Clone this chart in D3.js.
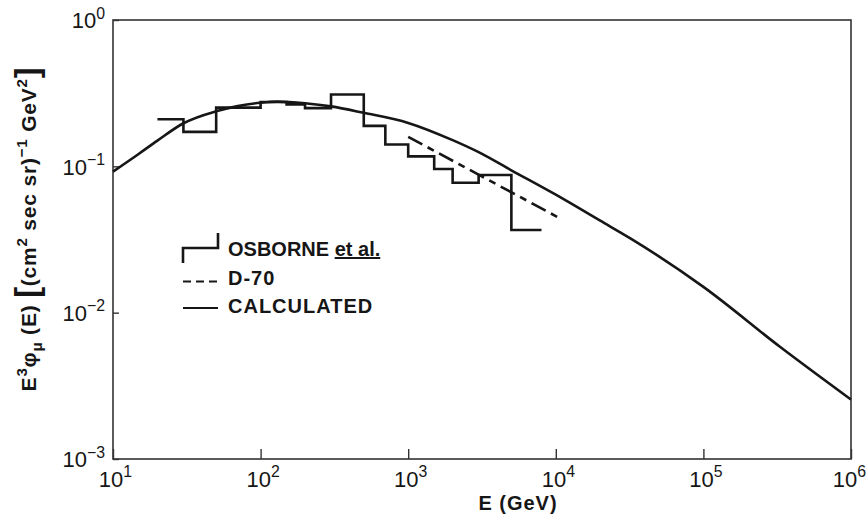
<!DOCTYPE html>
<html>
<head>
<meta charset="utf-8">
<script src="https://cdn.jsdelivr.net/npm/d3@7"></script>
<style>
  body { margin: 0; background: #fff; }
  svg { display: block; font-family: "Liberation Sans", Arial, sans-serif; }
</style>
</head>
<body>
<svg id="chart" width="867" height="515"></svg>
<script>
// ---- data ----
const xTicks = [1e1, 1e2, 1e3, 1e4, 1e5, 1e6];
const xTickExp = ['1', '2', '3', '4', '5', '6'];
const yTicks = [1e-3, 1e-2, 1e-1, 1];
const yTickExp = ['−3', '−2', '−1', '0'];

// Osborne et al. histogram: bin edges (GeV) and bin heights
const histEdges = [20, 30, 50, 100, 150, 200, 300, 500, 700, 1000, 1500, 2000, 3000, 5000, 8000];
const histValues = [0.21, 0.172, 0.252, 0.275, 0.265, 0.25, 0.31, 0.189, 0.141, 0.117, 0.096, 0.0773, 0.0873, 0.0367];

// D-70 (straight line in log-log)
const d70E = [1000, 11000];
const d70V = [0.159, 0.0434];

// calculated spectrum
const calcE = [10, 15, 20, 30, 50, 70, 100, 130, 200, 300, 500, 1000, 2000, 3000, 5000, 1e4, 2e4, 3.2e4, 1e5, 3.3e5, 1e6];
const calcV = [0.092, 0.122, 0.15, 0.197, 0.238, 0.258, 0.272, 0.277, 0.27, 0.257, 0.232, 0.198, 0.151, 0.125, 0.094, 0.064, 0.0425, 0.0322, 0.0150, 0.00585, 0.00255];

const legendItems = ['OSBORNE', 'D-70', 'CALCULATED'];

// ---- layout ----
const svg = d3.select('#chart');
const ink = '#161616';
const font = '"Liberation Sans", Arial, sans-serif';
const tickFont = 22;
const x = d3.scaleLog().domain([1e1, 1e6]).range([113, 851]);
const y = d3.scaleLog().domain([1e-3, 1]).range([459, 20]);

// writes "10" + superscript etc. into a text element (tspan dy only, no dy on the text)
function rich(sel, parts, baseSize) {
    let shift = 0;
    sel.text(null).attr('dy', null);
    parts.forEach(([str, kind]) => {
        const t = sel.append('tspan').text(str);
        let target = 0, size = baseSize;
        if (kind === 'sup') { target = -baseSize * 0.45; size = baseSize * 0.72; }
        if (kind === 'sub') { target = baseSize * 0.3; size = baseSize * 0.72; }
        if (kind === 'big') { target = baseSize * 0.08; size = baseSize * 1.55; }
        t.attr('dy', target - shift).attr('font-size', size);
        shift = target;
        if (kind === 'ul') t.style('text-decoration', 'underline');
    });
}

// frame
svg.append('rect')
    .attr('x', x.range()[0]).attr('y', y.range()[1])
    .attr('width', x.range()[1] - x.range()[0])
    .attr('height', y.range()[0] - y.range()[1])
    .attr('fill', 'none').attr('stroke', '#333').attr('stroke-width', 1.6);

// axes (inward ticks)
const xAxis = svg.append('g')
    .attr('transform', `translate(0,${y.range()[0]})`)
    .call(d3.axisBottom(x).tickValues(xTicks).tickSizeInner(-10).tickSizeOuter(0).tickPadding(11).tickFormat(''));
const yAxis = svg.append('g')
    .attr('transform', `translate(${x.range()[0]},0)`)
    .call(d3.axisLeft(y).tickValues(yTicks).tickSizeInner(-6).tickSizeOuter(0).tickPadding(8).tickFormat(''));

[xAxis, yAxis].forEach(g => {
    g.attr('font-family', font).attr('font-size', tickFont);
    g.select('.domain').remove();
    g.selectAll('.tick line').attr('stroke', '#333').attr('stroke-width', 1.4);
    g.selectAll('.tick text').attr('fill', ink);
});
xAxis.selectAll('.tick text').each(function (d, i) {
    // last label sits against the right edge of the page
    const t = d3.select(this).attr('y', 11 + tickFont * 0.76).attr('dx', i === xTicks.length - 1 ? -2 : 2);
    rich(t, [['10', 'n'], [xTickExp[i], 'sup']], tickFont);
});
yAxis.selectAll('.tick text').each(function (d, i) {
    const t = d3.select(this).attr('y', tickFont * 0.36);
    rich(t, [['10', 'n'], [yTickExp[i], 'sup']], tickFont);
});

// axis titles
svg.append('text')
    .attr('x', 518).attr('y', 510)
    .attr('text-anchor', 'middle').attr('font-size', 20).attr('font-weight', 'bold')
    .attr('letter-spacing', 1).attr('fill', ink)
    .text('E (GeV)');

const yTitle = svg.append('text')
    .attr('transform', 'translate(36,229) rotate(-90)')
    .attr('text-anchor', 'middle').attr('font-weight', 'bold')
    .attr('letter-spacing', 0.8).attr('fill', ink);
rich(yTitle, [
    ['E', 'n'], ['3', 'sup'], ['φ', 'n'], ['μ', 'sub'], [' (E) ', 'n'], ['[', 'big'],
    ['(cm', 'n'], ['2', 'sup'], [' sec sr)', 'n'], ['−1', 'sup'], [' GeV', 'n'], ['2', 'sup'], [']', 'big']
], 21);

// data
const plot = svg.append('g').attr('fill', 'none').attr('stroke', ink).attr('stroke-width', 2.6);

const histPts = [];
histValues.forEach((v, i) => {
    histPts.push([histEdges[i], v], [histEdges[i + 1], v]);
});
plot.append('path')
    .attr('d', d3.line().x(d => x(d[0])).y(d => y(d[1]))(histPts))
    .attr('stroke-linejoin', 'miter');

plot.append('path')
    .attr('d', d3.line().x(d => x(d)).y((d, i) => y(d70V[i]))(d70E))
    .attr('stroke-dasharray', '16,6,7,6');

plot.append('path')
    .attr('d', d3.line().curve(d3.curveMonotoneX).x(d => x(d)).y((d, i) => y(calcV[i]))(calcE));

// legend
const lx0 = 183, lx1 = 218, tx = 228;
const legend = svg.append('g').attr('fill', ink);
legend.append('path')
    .attr('d', `M${lx0},263V248H${lx1}V233`)
    .attr('fill', 'none').attr('stroke', ink).attr('stroke-width', 2.6);
legend.append('line')
    .attr('x1', lx0).attr('x2', lx1).attr('y1', 281.5).attr('y2', 281.5)
    .attr('stroke', ink).attr('stroke-width', 2.2).attr('stroke-dasharray', '8,5');
legend.append('line')
    .attr('x1', lx0).attr('x2', lx1).attr('y1', 308).attr('y2', 308)
    .attr('stroke', ink).attr('stroke-width', 2.2);

const lt = legend.append('g').attr('font-size', 20).attr('font-weight', 'bold');
rich(lt.append('text').attr('x', tx).attr('y', 256), [[legendItems[0] + ' ', 'n'], ['et al.', 'ul']], 20);
lt.append('text').attr('x', tx).attr('y', 285).attr('letter-spacing', 1).text(legendItems[1]);
lt.append('text').attr('x', tx).attr('y', 313).attr('letter-spacing', 1).text(legendItems[2]);
</script>
</body>
</html>
